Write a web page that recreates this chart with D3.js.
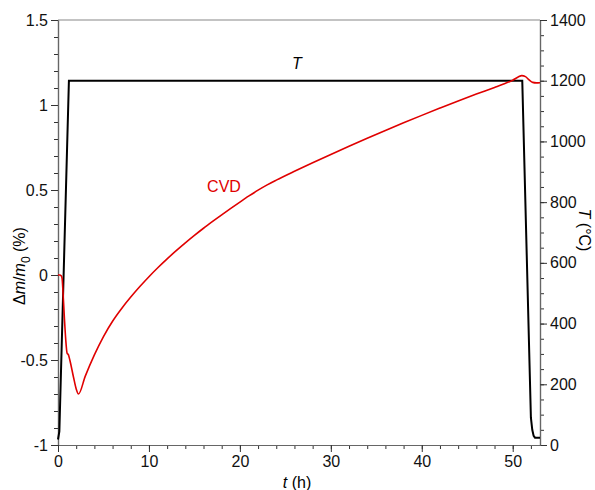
<!DOCTYPE html>
<html><head><meta charset="utf-8">
<script src="https://cdn.jsdelivr.net/npm/d3@7/dist/d3.min.js"></script>
<style>body{margin:0;background:#fff}svg{display:block}text{font-family:"Liberation Sans",Arial,sans-serif}</style>
</head><body>
<script>
// mass change (left axis, %) vs time (h)
const cvdTime = [0,0.2,0.35,0.45,0.55,0.7,0.85,1.0,1.15,1.3,1.7,2.0,2.25,3,4,5,6,7,8,9,10,11,12,13,14,15,16,17,18,19,20,21,22,23,24,26,28,30,32,34,36,38,40,42,44,46,48,49,50,50.6,51.0,51.4,51.8,52.2,52.6,53];
const cvdMass = [0,0,-0.005,-0.02,-0.1,-0.25,-0.38,-0.46,-0.47,-0.5,-0.6,-0.67,-0.70,-0.595,-0.47,-0.362,-0.272,-0.197,-0.13,-0.068,-0.01,0.044,0.095,0.143,0.189,0.233,0.275,0.315,0.354,0.392,0.429,0.465,0.499,0.53,0.558,0.61,0.66,0.709,0.757,0.804,0.85,0.895,0.939,0.982,1.024,1.064,1.103,1.123,1.146,1.165,1.173,1.167,1.148,1.133,1.13,1.131];
// temperature (right axis, °C)
const tempTime = [0,0.15,1.2,51.05,52.0,52.15,52.3,52.45,53];
const tempVal  = [18,45,1200,1200,90,50,30,24,24];
const leftTicks = [-1,-0.5,0,0.5,1,1.5];
const leftTickLabels = ["-1","-0.5","0","0.5","1","1.5"];
const rightTicks = [0,200,400,600,800,1000,1200,1400];
const rightTickLabels = ["0","200","400","600","800","1000","1200","1400"];
const xTicks = [0,10,20,30,40,50];
const xTickLabels = ["0","10","20","30","40","50"];

const W=595,H=490, L=58, R=540, T=20, B=445;
const svg=d3.select("body").append("svg").attr("width",W).attr("height",H);
const x=d3.scaleLinear().domain([0,53]).range([L,R]);
const yL=d3.scaleLinear().domain([-1,1.5]).range([B,T]);
const yR=d3.scaleLinear().domain([0,1400]).range([B,T]);

const fs=16, axisCol="#666", tickCol="#333";
svg.append("line").attr("x1",L).attr("x2",R).attr("y1",T).attr("y2",T).attr("stroke","#888").attr("stroke-width",1.2);

function styleAxis(g){
  g.select(".domain").attr("stroke",axisCol).attr("stroke-width",1.2);
  g.selectAll(".tick line").attr("stroke",tickCol);
  g.selectAll(".tick text").attr("font-size",fs).attr("fill","#111").style("font-family","Liberation Sans, Arial, sans-serif");
}
const leftMinor = d3.range(-1,1.5001,0.1).map(v=>+v.toFixed(2));
const rightMinor = d3.range(0,1400.1,50);
const xMinor = d3.range(0,53.01,2);

svg.append("g").attr("transform",`translate(${L},0)`).call(d3.axisLeft(yL).tickValues(leftMinor).tickSize(4).tickFormat("").tickSizeOuter(0)).call(styleAxis);
svg.append("g").attr("transform",`translate(${L},0)`).call(d3.axisLeft(yL).tickValues(leftTicks).tickSize(7).tickPadding(3).tickSizeOuter(0).tickFormat((d,i)=>leftTickLabels[i])).call(styleAxis);

svg.append("g").attr("transform",`translate(${R},0)`).call(d3.axisRight(yR).tickValues(rightMinor).tickSize(4).tickFormat("").tickSizeOuter(0)).call(styleAxis);
svg.append("g").attr("transform",`translate(${R},0)`).call(d3.axisRight(yR).tickValues(rightTicks).tickSize(7).tickPadding(3).tickSizeOuter(0).tickFormat((d,i)=>rightTickLabels[i])).call(styleAxis);

svg.append("g").attr("transform",`translate(0,${B})`).call(d3.axisBottom(x).tickValues(xMinor).tickSize(4).tickFormat("").tickSizeOuter(0)).call(styleAxis);
svg.append("g").attr("transform",`translate(0,${B})`).call(d3.axisBottom(x).tickValues(xTicks).tickSize(7).tickPadding(4).tickSizeOuter(0).tickFormat((d,i)=>xTickLabels[i])).call(styleAxis);

const tempData = tempTime.map((t,i)=>[t,tempVal[i]]);
const cvdData = cvdTime.map((t,i)=>[t,cvdMass[i]]);
svg.append("path").datum(tempData).attr("fill","none").attr("stroke","#000").attr("stroke-width",2)
  .attr("d",d3.line().x(d=>x(d[0])).y(d=>yR(d[1])));
svg.append("path").datum(cvdData).attr("fill","none").attr("stroke","#e00000").attr("stroke-width",1.6)
  .attr("d",d3.line().curve(d3.curveMonotoneX).x(d=>x(d[0])).y(d=>yL(d[1])));

svg.append("text").attr("x",297).attr("y",69).attr("text-anchor","middle").attr("font-size",fs).attr("font-style","italic").text("T");
svg.append("text").attr("x",224).attr("y",192).attr("text-anchor","middle").attr("font-size",fs).attr("fill","#e00000").text("CVD");

const yl = svg.append("text").attr("transform","translate(25,266) rotate(-90)").attr("text-anchor","middle").attr("font-size",fs);
yl.append("tspan").text("\u0394");
yl.append("tspan").attr("font-style","italic").text("m");
yl.append("tspan").text("/");
yl.append("tspan").attr("font-style","italic").text("m");
yl.append("tspan").attr("font-size",12).attr("dy",5).text("0");
yl.append("tspan").attr("dy",-5).text(" (%)");

const yr = svg.append("text").attr("transform","translate(579,230) rotate(90)").attr("text-anchor","middle").attr("font-size",fs);
yr.append("tspan").attr("font-style","italic").text("T");
yr.append("tspan").text(" (\u00B0C)");

const xl = svg.append("text").attr("x",297).attr("y",488).attr("text-anchor","middle").attr("font-size",fs);
xl.append("tspan").attr("font-style","italic").text("t");
xl.append("tspan").text(" (h)");
</script>
</body></html>
